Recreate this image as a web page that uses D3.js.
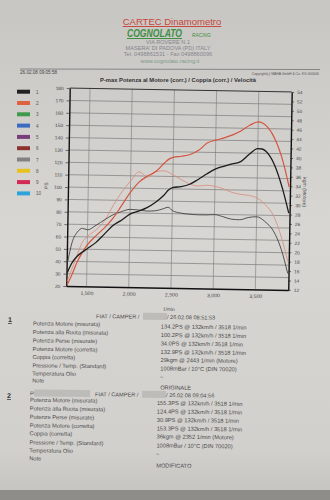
<!DOCTYPE html>
<html>
<head>
<meta charset="utf-8">
<script src="https://cdn.jsdelivr.net/npm/d3@7"></script>
<style>
  html, body { margin: 0; padding: 0; background: #d3d1ce; }
  svg { display: block; font-family: "Liberation Sans", Arial, sans-serif; }
</style>
</head>
<body>
<script>
/*
 * Data
 *
 */
const rpm = [1270, 1320, 1380, 1440, 1500, 1600, 1700, 1800, 1900, 2000, 2100, 2200, 2300, 2400, 2450, 2500,
  2600, 2700, 2800, 2900, 3000, 3100, 3200, 3300, 3400, 3500, 3550, 3600, 3700, 3800, 3880];

// run 1 (black) power PS / torque kgm
const power1 = [31, 38.5, 44, 47.5, 50.5, 55.5, 62.5, 69.5, 74, 79, 81.5, 84.5, 89, 95, 99, 101,
  102, 104, 108, 112.5, 116.5, 119, 121, 123, 129, 133.7, 133.5, 131.5, 121, 102, 82];
const torque1 = [17, 21.3, 23.5, 24.3, 24, 25, 26.2, 27.3, 28, 28.5, 28.4, 28.2, 28.3, 28.8, 29.1, 28.4,
  27.9, 27.7, 27.6, 27.6, 27.7, 27.3, 26.8, 26.7, 27.2, 27.4, 27.1, 26.4, 24.5, 20.5, 15.5];

// run 2 (red) power PS / torque kgm
const power2 = [21, 28.5, 39, 47, 53.5, 61, 67.5, 75.5, 86, 96.5, 105, 110, 114, 121, 124, 125.5,
  126.5, 128, 131.5, 137.5, 140, 142, 144.5, 148, 152.5, 155.3, 154.5, 152, 142, 124, 103];
const torque2 = [13, 15.5, 18.5, 21.3, 22.6, 24, 26, 29.3, 32.2, 34.5, 36.5, 35.4, 36.6, 36.8, 36.5, 36,
  35, 34.1, 33.7, 33.9, 33.7, 33.2, 32.5, 32.1, 31.9, 31.4, 30.8, 30, 27.7, 23, 18];

const psTicks = [20, 30, 40, 50, 60, 70, 80, 90, 100, 110, 120, 130, 140, 150, 160, 170, 180];
const kgmTicks = [12, 14, 16, 18, 20, 22, 24, 26, 28, 30, 32, 34, 36, 38, 40, 42, 44, 46, 48, 50, 52, 54];
const rpmTicks = [1500, 2000, 2500, 3000, 3500];

const legendNames = ['1', '2', '3', '4', '5', '6', '7', '8', '9', '10'];
const legendColors = ['#222222', '#e0613f', '#3f9a4c', '#3b6cc0', '#7b3c7c', '#8c3330', '#828282', '#e6c21e', '#d22a55', '#2ea3da'];

const rowLabels1 = ['Potenza Motore (misurata)', 'Potenza alla Ruota (misurata)', 'Potenza Perse (misurate)',
  'Potenza Motore (corretta)', 'Coppia (corretta)', 'Pressione / Temp. (Standard)', 'Temperatura Olio', 'Note'];
const rowValues1 = ['134.2PS @ 132km/h / 3518 1/min', '100.2PS @ 132km/h / 3518 1/min', '34.0PS @ 132km/h / 3518 1/min',
  '132.9PS @ 132km/h / 3518 1/min', '29kgm @ 2443 1/min (Motore)', '1008mBar / 10°C    (DIN 70020)', '–', 'ORIGINALE'];
const rowLabels2 = ['Potenza Motore (misurata)', 'Potenza alla Ruota (misurata)', 'Potenze Perse (misurate)',
  'Potenza Motore (corretta)', 'Coppia (corretta)', 'Pressione / Temp. (Standard)', 'Temperatura Olio', 'Note'];
const rowValues2 = ['155.3PS @ 132km/h / 3518 1/min', '124.4PS @ 132km/h / 3518 1/min', '30.9PS @ 132km/h / 3518 1/min',
  '153.3PS @ 132km/h / 3518 1/min', '36kgm @ 2352 1/min (Motore)', '1008mBar / 10°C    (DIN 70020)', '–', 'MODIFICATO'];

/*
 * Page
 *
 */
const svgWidth = 330, svgHeight = 500;
const plot = { left: 68, right: 290, top: 90, bottom: 288 };

const svg = d3.select('body').append('svg')
  .attr('width', svgWidth)
  .attr('height', svgHeight);

const defs = svg.append('defs');
const grad = defs.append('linearGradient').attr('id', 'paper').attr('x1', 0).attr('y1', 0).attr('x2', 0).attr('y2', 1);
grad.append('stop').attr('offset', '0%').attr('stop-color', '#c8c6c3');
grad.append('stop').attr('offset', '45%').attr('stop-color', '#d8d6d3');
grad.append('stop').attr('offset', '90%').attr('stop-color', '#d2d0cd');
grad.append('stop').attr('offset', '100%').attr('stop-color', '#c4c2bf');

svg.append('rect').attr('width', svgWidth).attr('height', svgHeight).attr('fill', 'url(#paper)');
svg.append('rect').attr('y', 490).attr('width', svgWidth).attr('height', 10).attr('fill', '#8f8d89');

// header
const head = svg.append('g').attr('text-anchor', 'middle');
head.append('text').attr('x', 172).attr('y', 25).attr('font-size', 9.5).attr('fill', '#c8453b')
  .attr('text-decoration', 'underline').text('CARTEC Dinamometro');
head.append('text').attr('x', 127).attr('y', 37).attr('font-size', 10).attr('font-weight', 'bold')
  .attr('text-anchor', 'start').attr('textLength', 55).attr('lengthAdjust', 'spacingAndGlyphs')
  .attr('font-style', 'italic').attr('fill', '#3f8f44').attr('text-decoration', 'underline').text('COGNOLATO');
head.append('text').attr('x', 192).attr('y', 36.5).attr('font-size', 4.8).attr('font-style', 'italic')
  .attr('text-anchor', 'start').attr('fill', '#3f8f44').text('RACING');
const addr = ['VIA ROVERE N.1', "MASERA' DI PADOVA (PD) ITALY", 'Tel. 0498861531 - Fax 0498860096'];
addr.forEach((t, i) => {
  head.append('text').attr('x', 168).attr('y', 44 + i * 6.2).attr('font-size', 5.6).attr('fill', '#85868e').text(t);
});
head.append('text').attr('x', 170).attr('y', 63).attr('font-size', 5.6).attr('fill', '#7d9a86').text('www.cognolato.racing.it');

svg.append('line').attr('x1', 20).attr('x2', 320).attr('y1', 69).attr('y2', 69.5).attr('stroke', '#555').attr('stroke-width', 0.6);
svg.append('text').attr('x', 20).attr('y', 74).attr('font-size', 4.6).attr('fill', '#444').text('26.02.08 09:05:58');
svg.append('text').attr('x', 319).attr('y', 75).attr('font-size', 3.4).attr('fill', '#555').attr('text-anchor', 'end')
  .text('Copyright(c) MAHA GmbH & Co. KG 000000');
svg.append('text').attr('x', 178).attr('y', 82).attr('font-size', 5.8).attr('font-weight', 'bold').attr('fill', '#333')
  .attr('text-anchor', 'middle').text('P-max Potenza al Motore (corr.) / Coppia (corr.) / Velocità');

// legend
const legend = svg.append('g').selectAll('g').data(legendNames).enter().append('g')
  .attr('transform', (d, i) => `translate(17,${91.7 + i * 11.3})`);
legend.append('rect').attr('y', -2).attr('width', 13).attr('height', 4).attr('fill', (d, i) => legendColors[i]);
legend.append('text').attr('x', 19).attr('y', 2).attr('font-size', 4.6).attr('fill', '#555').text(d => d);

/*
 * Scales
 *
 */
const xScale = d3.scaleLinear().domain([1260, 3890]).range([plot.left, plot.right]);
const psScale = d3.scaleLinear().domain([20, 180]).range([plot.bottom, plot.top]);
const kgmScale = d3.scaleLinear().domain([12, 54]).range([plot.bottom, plot.top]);

const chart = svg.append('g').attr('transform', 'rotate(1,179,189)');

// grid
chart.append('g').selectAll('line').data(psTicks.slice(1, -1)).enter().append('line')
  .attr('x1', plot.left).attr('x2', plot.right)
  .attr('y1', d => psScale(d)).attr('y2', d => psScale(d))
  .attr('stroke', '#6c6c6c').attr('stroke-width', 0.6);
chart.append('g').selectAll('line').data(rpmTicks).enter().append('line')
  .attr('x1', d => xScale(d)).attr('x2', d => xScale(d))
  .attr('y1', plot.top).attr('y2', plot.bottom)
  .attr('stroke', '#7a7a7a').attr('stroke-width', 0.6);
chart.append('line').attr('x1', plot.left).attr('x2', plot.right).attr('y1', plot.top).attr('y2', plot.top)
  .attr('stroke', '#222').attr('stroke-width', 0.9);

// axes
const leftAxis = chart.append('g').attr('transform', `translate(${plot.left},0)`)
  .call(d3.axisLeft(psScale).tickValues(psTicks).tickSize(3).tickSizeOuter(0));
const rightAxis = chart.append('g').attr('transform', `translate(${plot.right},0)`)
  .call(d3.axisRight(kgmScale).tickValues(kgmTicks).tickSize(2.5).tickSizeOuter(0));
const bottomAxis = chart.append('g').attr('transform', `translate(0,${plot.bottom})`)
  .call(d3.axisBottom(xScale).tickValues(rpmTicks).tickFormat(d3.format(',')).tickSize(0).tickSizeOuter(0).tickPadding(5));

[leftAxis, rightAxis, bottomAxis].forEach(a => {
  a.select('.domain').attr('stroke', '#111').attr('stroke-width', 1.4);
  a.selectAll('.tick line').attr('stroke', '#222').attr('stroke-width', 0.6);
  a.selectAll('text').attr('font-size', 4.8).attr('fill', '#444').attr('font-family', '"Liberation Sans", Arial, sans-serif');
});
bottomAxis.selectAll('text').attr('font-size', 5.2);

chart.append('text').attr('transform', 'translate(48,188) rotate(-90)').attr('text-anchor', 'middle')
  .attr('font-size', 5).attr('fill', '#444').text('PS');
chart.append('text').attr('transform', 'translate(303,190) rotate(90)').attr('text-anchor', 'middle')
  .attr('font-size', 5).attr('fill', '#444').text('kgm (Motore)');
chart.append('text').attr('x', 171).attr('y', 311).attr('text-anchor', 'middle')
  .attr('font-size', 4.8).attr('fill', '#444').text('1/min');

// curves
const series = [
  { values: torque2, scale: kgmScale, color: '#d98d80', width: 0.85 },
  { values: torque1, scale: kgmScale, color: '#3d3d3d', width: 0.85 },
  { values: power2, scale: psScale, color: '#d4553f', width: 1.2 },
  { values: power1, scale: psScale, color: '#1c1c1c', width: 1.3 }
];

const dataContainer = chart.append('g').attr('id', 'data-container');
series.forEach(s => {
  const line = d3.line()
    .x((d, i) => xScale(rpm[i]))
    .y(d => s.scale(d))
    .curve(d3.curveMonotoneX);
  dataContainer.append('path')
    .datum(s.values)
    .attr('d', line)
    .attr('fill', 'none')
    .attr('stroke', s.color)
    .attr('stroke-width', s.width)
    .attr('stroke-linejoin', 'round');
});

/*
 * Result blocks
 *
 */
function drawBlock(num, numY, headY, date, labels, values, top, labelX, valueX, coverHead) {
  const g = svg.append('g').attr('transform', 'rotate(0.7,165,400)').attr('fill', '#4a4a4a');
  g.append('text').attr('x', 7).attr('y', numY).attr('font-size', 7).attr('font-weight', 'bold')
    .attr('text-decoration', 'underline').attr('fill', '#333').text(num);
  if (coverHead) {
    g.append('text').attr('x', 30).attr('y', headY).attr('font-size', 5.6).text('POS');
    g.append('rect').attr('x', 34).attr('y', headY - 6).attr('width', 56).attr('height', 7).attr('fill', '#bebcb9');
  }
  g.append('text').attr('x', 95).attr('y', headY).attr('font-size', 5.6).text('FIAT / CAMPER /');
  g.append('rect').attr('x', 142).attr('y', headY - 6).attr('width', 24).attr('height', 7).attr('fill', '#bebcb9');
  g.append('text').attr('x', 166).attr('y', headY).attr('font-size', 5.6).text(date);
  labels.forEach((t, i) => {
    g.append('text').attr('x', labelX).attr('y', top[i]).attr('font-size', 5.7).text(t);
  });
  values.forEach((t, i) => {
    g.append('text').attr('x', valueX).attr('y', top[i] + 1.5 + (i === 7 ? 4 : 0)).attr('font-size', 5.7).text(t);
  });
}

drawBlock('1', 324, 319, '/ 26.02.08 08:51:53', rowLabels1, rowValues1,
  [327, 335.5, 344, 352.5, 360.5, 369, 377, 384], 32, 160, false);
drawBlock('2', 400, 397, '/ 26.02.08 09:04:56', rowLabels2, rowValues2,
  [403.5, 412, 420.5, 429, 437, 446, 454, 462], 30, 157, true);
</script>
</body>
</html>
